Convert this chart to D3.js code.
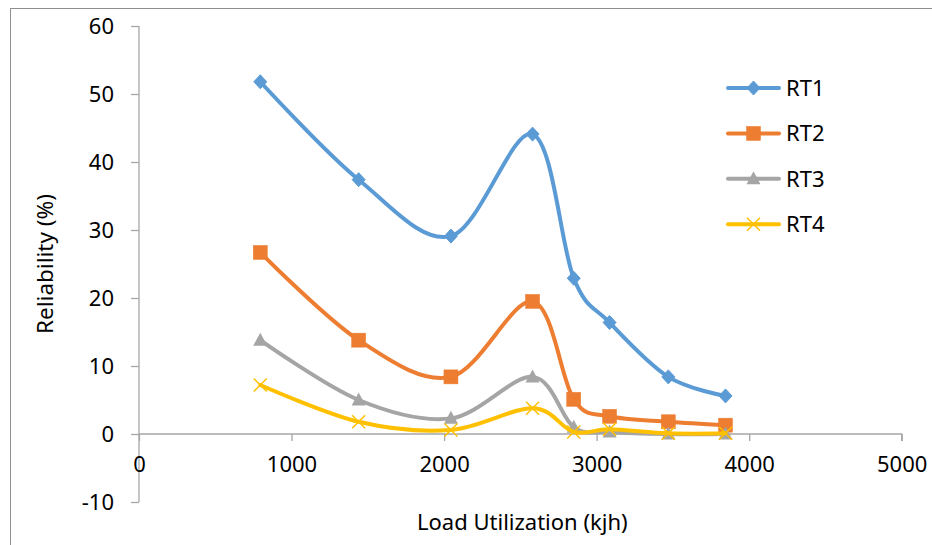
<!DOCTYPE html>
<html>
<head>
<meta charset="utf-8">
<script src="https://cdn.jsdelivr.net/npm/d3@7"></script>
<style>
  html, body { margin: 0; padding: 0; background: #fff; }
  svg { display: block; }
  text { font-family: "Noto Sans", "Open Sans", sans-serif; fill: #000; }
</style>
</head>
<body>
<svg id="chart" width="932" height="545"></svg>
<script>
// Load utilization (kjh) at each measurement
const loads = [795, 1440, 2045, 2580, 2850, 3085, 3470, 3845];

// Reliability (%) per series
const rt1 = [51.8, 37.4, 29.1, 44.1, 22.9, 16.4, 8.4, 5.6];
const rt2 = [26.7, 13.8, 8.4, 19.5, 5.1, 2.6, 1.8, 1.3];
const rt3 = [13.8, 5.0, 2.3, 8.4, 1.0, 0.3, 0.0, 0.0];
const rt4 = [7.2, 1.8, 0.6, 3.8, 0.3, 0.7, 0.1, 0.1];

const seriesNames = ["RT1", "RT2", "RT3", "RT4"];
const xTicks = [0, 1000, 2000, 3000, 4000, 5000];
const yTicks = [-10, 0, 10, 20, 30, 40, 50, 60];

const colors = ["#5B9BD5", "#ED7D31", "#A5A5A5", "#FFC000"];
const markerKinds = ["diamond", "square", "triangle", "cross"];

const series = seriesNames.map((name, i) => ({
  name,
  values: [rt1, rt2, rt3, rt4][i].map((v, j) => ({ x: loads[j], y: v })),
  color: colors[i],
  marker: markerKinds[i]
}));

const svg = d3.select("#chart");

// outer chart frame
svg.append("rect")
  .attr("x", 10.5).attr("y", 8.5)
  .attr("width", 940).attr("height", 560)
  .attr("fill", "none").attr("stroke", "#8e8e8e").attr("stroke-width", 1);

const x = d3.scaleLinear().domain([0, 5000]).range([139, 901.7]);
const y = d3.scaleLinear().domain([-10, 60]).range([502, 26]);

const axisColor = "#a6a6a6";
const plainNumber = d => String(d); // keeps a plain hyphen for negatives

// y axis
const yAxis = svg.append("g")
  .attr("transform", `translate(${x(0)},0)`)
  .call(d3.axisLeft(y).tickValues(yTicks).tickSize(8).tickPadding(17).tickFormat(plainNumber));
yAxis.select(".domain").attr("stroke", axisColor).attr("stroke-width", 1.3)
  .attr("d", `M0,${y(-10)}V${y(60)}`);
yAxis.selectAll(".tick line").attr("stroke", axisColor).attr("stroke-width", 1.3);
yAxis.selectAll(".tick text").style("font-size", "22px")
  .style("font-family", "'Noto Sans', sans-serif").attr("fill", "#000");
yAxis.selectAll(".tick text").attr("dy", "0.35em");

// x axis along y = 0
const xAxis = svg.append("g")
  .attr("transform", `translate(0,${y(0)})`)
  .call(d3.axisBottom(x).tickValues(xTicks).tickSize(7).tickPadding(15).tickFormat(plainNumber));
xAxis.select(".domain").attr("stroke", axisColor).attr("stroke-width", 1.3)
  .attr("d", `M${x(0)},0H${x(5000)}V7`);
xAxis.selectAll(".tick line").attr("stroke", axisColor).attr("stroke-width", 1.3);
xAxis.selectAll(".tick text").style("font-size", "22px")
  .style("font-family", "'Noto Sans', sans-serif").attr("fill", "#000");

// axis titles
svg.append("text")
  .attr("x", (x(0) + x(5000)) / 2 + 2).attr("y", 530)
  .attr("text-anchor", "middle")
  .style("font-size", "22px")
  .text("Load Utilization (kjh)");

svg.append("text")
  .attr("transform", `translate(53,264) rotate(-90)`)
  .attr("text-anchor", "middle")
  .style("font-size", "22.5px")
  .text("Reliability (%)");

// smoothed lines
const line = d3.line()
  .x(d => x(d.x)).y(d => y(d.y))
  .curve(d3.curveCardinal.tension(0));

function drawMarker(g, kind, color, cx, cy) {
  if (kind === "diamond") {
    g.append("path")
      .attr("d", `M${cx},${cy - 7}L${cx + 6.5},${cy}L${cx},${cy + 7}L${cx - 6.5},${cy}Z`)
      .attr("fill", color).attr("stroke", color).attr("stroke-width", 1);
  } else if (kind === "square") {
    g.append("rect")
      .attr("x", cx - 7).attr("y", cy - 7).attr("width", 14).attr("height", 14)
      .attr("fill", color).attr("stroke", color).attr("stroke-width", 0.5);
  } else if (kind === "triangle") {
    g.append("path")
      .attr("d", `M${cx},${cy - 7.5}L${cx + 7},${cy + 5.5}L${cx - 7},${cy + 5.5}Z`)
      .attr("fill", color);
  } else {
    g.append("path")
      .attr("d", `M${cx - 6.5},${cy - 6.5}L${cx + 6.5},${cy + 6.5}M${cx - 6.5},${cy + 6.5}L${cx + 6.5},${cy - 6.5}`)
      .attr("stroke", color).attr("stroke-width", 1.5).attr("fill", "none");
  }
}

const plot = svg.append("g");
series.forEach(s => {
  const g = plot.append("g");
  g.append("path")
    .attr("d", line(s.values))
    .attr("fill", "none")
    .attr("stroke", s.color)
    .attr("stroke-width", 4)
    .attr("stroke-linejoin", "round")
    .attr("stroke-linecap", "round");
  s.values.forEach(d => drawMarker(g, s.marker, s.color, x(d.x), y(d.y)));
});

// legend
const legendY = d3.scalePoint().domain(seriesNames).range([88, 224.3]);
const legend = svg.append("g");
series.forEach(s => {
  const ly = legendY(s.name);
  const g = legend.append("g");
  g.append("line")
    .attr("x1", 728).attr("x2", 779).attr("y1", ly).attr("y2", ly)
    .attr("stroke", s.color).attr("stroke-width", 4).attr("stroke-linecap", "round");
  drawMarker(g, s.marker, s.color, 753.5, ly);
  g.append("text")
    .attr("x", 786).attr("y", ly).attr("dy", "0.35em")
    .style("font-size", "22px")
    .text(s.name);
});
</script>
</body>
</html>
